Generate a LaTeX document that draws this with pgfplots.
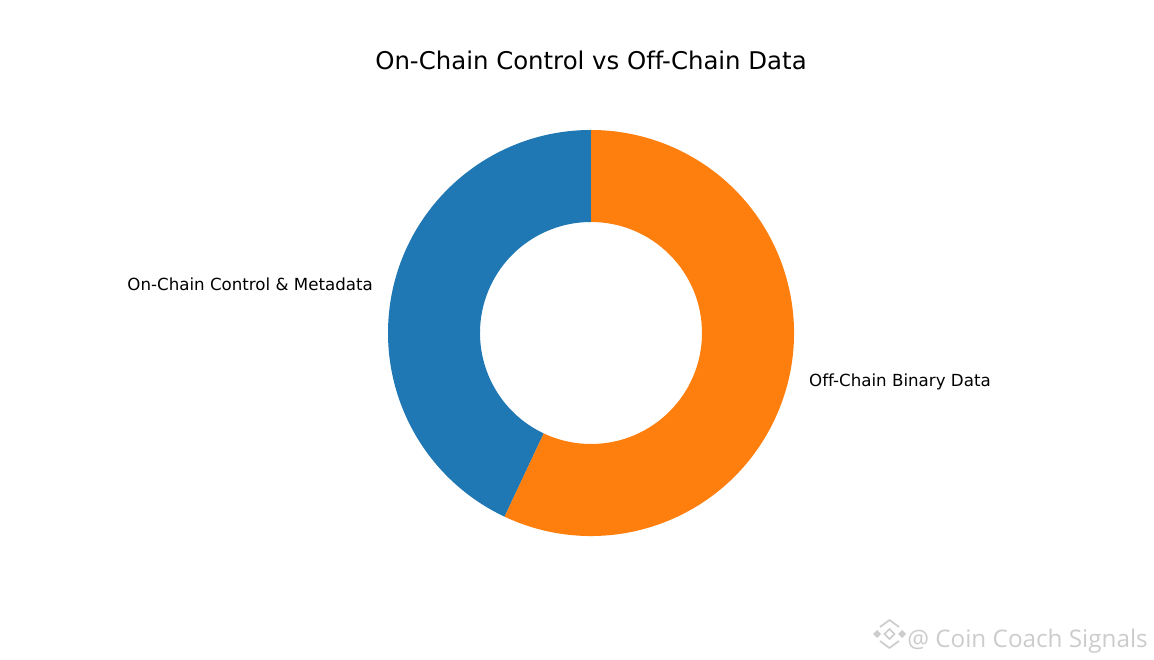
\documentclass[border=0pt]{standalone}
\usepackage{pgfplots}
\usepackage{pgfplotstable}
\usepackage{fontspec}
\setmainfont{DejaVu Sans}[Ligatures={NoCommon}]
\newfontfamily\wmfont{Open Sans}
\pgfplotsset{compat=1.18}
\definecolor{tabblue}{HTML}{1F77B4}
\definecolor{taborange}{HTML}{FF7F0E}
\pgfplotstableread{
part value
OnChain 43
OffChain 57
}\piedata
\begin{document}
\begin{tikzpicture}
\useasboundingbox (0,0) rectangle (865.5pt,495pt);
\pgfplotstablegetelem{0}{value}\of\piedata
\let\vA\pgfplotsretval
\pgfplotstablegetelem{1}{value}\of\piedata
\let\vB\pgfplotsretval
\pgfmathsetmacro{\tot}{\vA+\vB}
\pgfmathsetmacro{\aS}{90}
\pgfmathsetmacro{\aM}{90+360*\vA/\tot}
\pgfmathsetmacro{\aE}{450}
\pgfmathsetmacro{\mA}{(\aS+\aM)/2}
\pgfmathsetmacro{\mB}{(\aM+\aE)/2}
\def\Ro{152.25pt}
\def\Ri{83.25pt}
\def\Rl{167.5pt}
\begin{axis}[
  scale only axis, width=865.5pt, height=495pt,
  xmin=0, xmax=1154, ymin=0, ymax=660,
  hide axis, clip=false,
]
\fill[tabblue] ([shift={(\aS:\Ro)}]axis cs:591,327) arc[start angle=\aS, end angle=\aM, radius=\Ro]
  -- ([shift={(\aM:\Ri)}]axis cs:591,327) arc[start angle=\aM, end angle=\aS, radius=\Ri] -- cycle;
\fill[taborange] ([shift={(\aM:\Ro)}]axis cs:591,327) arc[start angle=\aM, end angle=\aE, radius=\Ro]
  -- ([shift={(\aE:\Ri)}]axis cs:591,327) arc[start angle=\aE, end angle=\aM, radius=\Ri] -- cycle;
\node[anchor=east, inner sep=0pt, font=\fontsize{12.5}{15}\selectfont] at ([shift={(\mA:\Rl)}]axis cs:591,327) {On-Chain Control \& Metadata};
\node[anchor=west, inner sep=0pt, font=\fontsize{12.5}{15}\selectfont] at ([shift={(\mB:\Rl)}]axis cs:591,327) {Off-Chain Binary Data};
\node[anchor=base, inner sep=0pt, font=\fontsize{18.3}{22}\selectfont] at (axis cs:591,590.7) {On-Chain Control vs Off-Chain Data};
% watermark
\node[anchor=base west, inner sep=0pt, text=black!20, font=\wmfont\fontsize{18.2}{20}\selectfont] at (axis cs:907,12.7) {@ Coin Coach Signals};
\draw[black!20, line width=1.3pt, line join=round] (axis cs:880,33) -- (axis cs:889.5,40) -- (axis cs:899,33);
\draw[black!20, line width=1.3pt, line join=round] (axis cs:880,19) -- (axis cs:889.5,12) -- (axis cs:899,19);
\draw[black!20, line width=1.2pt] (axis cs:889.5,31) -- (axis cs:894.5,26) -- (axis cs:889.5,21) -- (axis cs:884.5,26) -- cycle;
\fill[black!20] (axis cs:877,30) -- (axis cs:881,26) -- (axis cs:877,22) -- (axis cs:873,26) -- cycle;
\fill[black!20] (axis cs:902,30) -- (axis cs:906,26) -- (axis cs:902,22) -- (axis cs:898,26) -- cycle;
\end{axis}
\end{tikzpicture}
\end{document}
